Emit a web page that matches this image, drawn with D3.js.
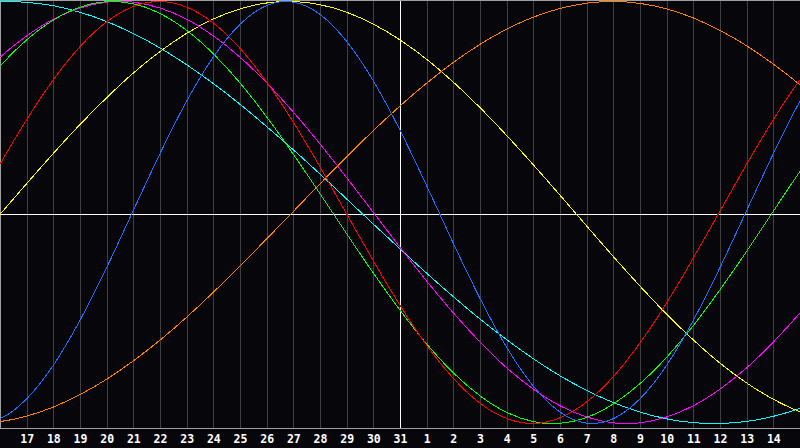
<!DOCTYPE html>
<html>
<head>
<meta charset="utf-8">
<script src="https://cdn.jsdelivr.net/npm/d3@7"></script>
<style>
  html, body { margin: 0; padding: 0; background: #07060a; }
  svg { display: block; }
</style>
</head>
<body>
<svg id="chart" width="800" height="448"></svg>
<script>
// Day offsets (0 = the 16th of the first month, 30 = the 15th of the next month)
const dayOffsets = [-1,0,1,2,3,4,5,6,7,8,9,10,11,12,13,14,15,16,17,18,19,20,21,22,23,24,25,26,27,28,29,30,31];
const tickOffsets = [1,2,3,4,5,6,7,8,9,10,11,12,13,14,15,16,17,18,19,20,21,22,23,24,25,26,27,28,29];
const tickLabels = ["17","18","19","20","21","22","23","24","25","26","27","28","29","30","31",
                    "1","2","3","4","5","6","7","8","9","10","11","12","13","14"];

// Series values (-1 .. 1), one per day offset
const physical = [-0.998,-0.977,-0.883,-0.724,-0.511,-0.261,0.010,0.279,0.528,0.737,0.892,0.981,0.997,0.939,0.811,0.624,0.390,0.127,-0.146,-0.407,-0.639,-0.823,-0.946,-0.998,-0.977,-0.883,-0.724,-0.511,-0.261,0.010,0.279,0.528,0.737];
const emotional = [0.007,0.229,0.440,0.629,0.786,0.904,0.976,1.000,0.973,0.898,0.778,0.618,0.428,0.216,-0.007,-0.229,-0.440,-0.629,-0.786,-0.904,-0.976,-1.000,-0.973,-0.898,-0.778,-0.618,-0.428,-0.216,0.007,0.229,0.440,0.629,0.786];
const intellectual = [0.545,0.694,0.818,0.912,0.973,0.999,0.989,0.943,0.863,0.752,0.614,0.453,0.276,0.089,-0.101,-0.287,-0.463,-0.623,-0.760,-0.869,-0.947,-0.991,-0.999,-0.971,-0.907,-0.811,-0.686,-0.536,-0.366,-0.184,0.006,0.195,0.377];
const intuitive = [0.614,0.736,0.837,0.916,0.969,0.997,0.997,0.969,0.916,0.837,0.736,0.614,0.476,0.325,0.165,0.000,-0.165,-0.325,-0.476,-0.614,-0.736,-0.837,-0.916,-0.969,-0.997,-0.997,-0.969,-0.916,-0.837,-0.736,-0.614,-0.476,-0.325];
const aesthetic = [-0.154,-0.009,0.137,0.280,0.417,0.544,0.661,0.763,0.849,0.917,0.965,0.993,1.000,0.985,0.949,0.893,0.818,0.726,0.618,0.497,0.365,0.226,0.082,-0.064,-0.209,-0.349,-0.482,-0.604,-0.714,-0.808,-0.885,-0.944,-0.982];
const awareness = [-1.000,-0.991,-0.965,-0.922,-0.863,-0.790,-0.703,-0.605,-0.496,-0.378,-0.254,-0.125,0.005,0.136,0.264,0.388,0.505,0.613,0.711,0.797,0.869,0.926,0.967,0.992,1.000,0.991,0.965,0.922,0.863,0.790,0.703,0.605,0.496];
const spiritual = [0.988,0.999,0.996,0.980,0.949,0.905,0.848,0.780,0.700,0.611,0.513,0.407,0.297,0.182,0.064,-0.055,-0.172,-0.288,-0.399,-0.505,-0.603,-0.693,-0.774,-0.843,-0.901,-0.946,-0.978,-0.996,-1.000,-0.990,-0.966,-0.928,-0.878];

const seriesNames = ["spiritual","aesthetic","awareness","intuitive","intellectual","emotional","physical"];
const seriesValues = [spiritual, aesthetic, awareness, intuitive, intellectual, emotional, physical];
const seriesColors = ["#00ffff","#ffff00","#ff8000","#ff00ff","#00ff00","#ff0000","#1e6eff"];

const W = 800, H = 448, plotBottom = 428;
const svg = d3.select("#chart");

const x = d3.scaleLinear().domain([0, 30]).range([0, W]);
const y = d3.scaleLinear().domain([-1, 1]).range([423.5, 1.5]);

svg.append("rect").attr("width", W).attr("height", H).attr("fill", "#07060a");

svg.append("defs").append("clipPath").attr("id", "plotclip")
  .append("rect").attr("x", 0).attr("y", 0).attr("width", W).attr("height", plotBottom);

// vertical grid
svg.append("g").selectAll("line").data(tickOffsets).join("line")
  .attr("x1", d => Math.round(x(d)) + 0.5).attr("x2", d => Math.round(x(d)) + 0.5)
  .attr("y1", 1).attr("y2", plotBottom)
  .attr("stroke", d => d === 15 ? "#ffffff" : "#404040")
  .attr("stroke-width", 1)
  .attr("shape-rendering", "crispEdges");

// horizontal zero line
svg.append("line")
  .attr("x1", 0).attr("x2", W).attr("y1", 214.5).attr("y2", 214.5)
  .attr("stroke", "#ffffff").attr("shape-rendering", "crispEdges");

// frame (top, left) and bottom axis line
svg.append("line").attr("x1", 0).attr("x2", W).attr("y1", 0.5).attr("y2", 0.5)
  .attr("stroke", "#a0a0a0").attr("shape-rendering", "crispEdges");
svg.append("line").attr("x1", 0.5).attr("x2", 0.5).attr("y1", 0).attr("y2", plotBottom)
  .attr("stroke", "#a0a0a0").attr("shape-rendering", "crispEdges");
svg.append("line").attr("x1", 0).attr("x2", W).attr("y1", plotBottom + 0.5).attr("y2", plotBottom + 0.5)
  .attr("stroke", "#a0a0a0").attr("shape-rendering", "crispEdges");

// curves
const line = d3.line()
  .x((d, i) => x(dayOffsets[i]))
  .y(d => y(d))
  .curve(d3.curveNatural);

svg.append("g").attr("clip-path", "url(#plotclip)")
  .selectAll("path").data(seriesValues).join("path")
  .attr("class", (d, i) => seriesNames[i])
  .attr("d", d => line(d))
  .attr("fill", "none")
  .attr("stroke", (d, i) => seriesColors[i])
  .attr("stroke-width", 1)
  .attr("shape-rendering", "crispEdges");

// tick labels
svg.append("g").selectAll("text").data(tickOffsets).join("text")
  .attr("x", d => x(d) + 0.5)
  .attr("y", 443)
  .attr("text-anchor", "middle")
  .attr("fill", "#ffffff")
  .attr("font-family", "'DejaVu Sans Mono', monospace")
  .attr("font-weight", "bold")
  .attr("font-size", "11.5px")
  .text((d, i) => tickLabels[i]);
</script>
</body>
</html>
